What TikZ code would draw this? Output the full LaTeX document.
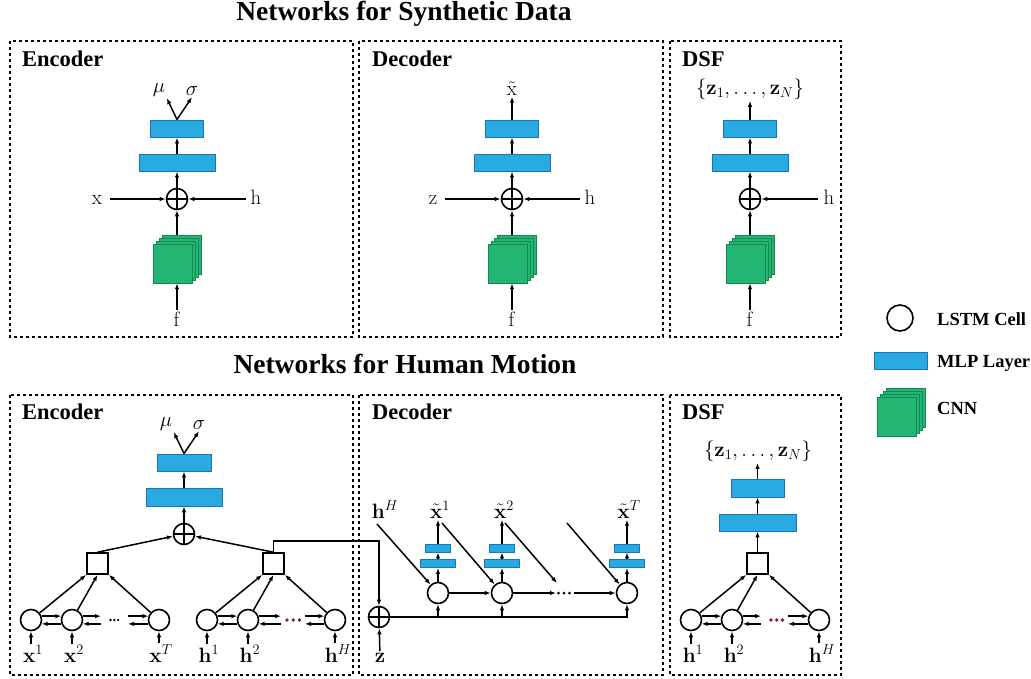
\documentclass[tikz,border=0pt]{standalone}
\usepackage[no-math]{fontspec}
\usepackage{mathtools}
\usetikzlibrary{arrows.meta,calc}
\newfontfamily\headfont{Liberation Serif}
\definecolor{mlpfill}{HTML}{29ABE2}
\definecolor{mlpdraw}{HTML}{1B75BC}
\definecolor{cnnfill}{HTML}{22B573}
\definecolor{cnndraw}{HTML}{16874F}
\definecolor{dotred}{HTML}{7A1E4B}
\tikzset{
  ln/.style={line width=1.5pt},
  arr/.style={line width=1.5pt,-{Latex[length=6pt,width=4.5pt]}},
  mlp/.style={draw=mlpdraw,fill=mlpfill,line width=0.9pt,inner sep=0pt,minimum height=17pt},
  lstm/.style={circle,draw,line width=1.6pt,minimum size=21pt,inner sep=0pt},
  opl/.style={circle,draw,line width=1.6pt,minimum size=21pt,inner sep=0pt,
    path picture={\draw[line width=1.5pt] (path picture bounding box.north) -- (path picture bounding box.south)
      (path picture bounding box.west) -- (path picture bounding box.east);}},
  sqbox/.style={draw,line width=1.6pt,minimum size=21pt,inner sep=0pt},
  panel/.style={draw,line width=1.6pt,dash pattern=on 3pt off 3pt},
  lab/.style={font=\huge,inner sep=1.5pt},
  head/.style={font=\headfont\bfseries\fontsize{22.5}{24}\selectfont,anchor=base west,inner sep=0pt},
  ttl/.style={font=\headfont\bfseries\fontsize{27.5}{30}\selectfont,anchor=base,inner sep=0pt},
  legt/.style={font=\headfont\bfseries\fontsize{18.5}{20}\selectfont,anchor=base west,inner sep=0pt},
  cnnsq/.style={draw=cnndraw,fill=cnnfill,line width=0.9pt},
}
\newcommand{\cnnstack}[3]{%
  \foreach \k in {3,2,1,0}{\draw[cnnsq] ({#2-24+3*\k},{#3+24-3*\k}) rectangle ++(39,-39);}
  \node[inner sep=0pt,minimum size=48pt] (#1) at (#2,#3) {};}
\newcommand{\dotrow}[6]{% color, x1, x2, x3, y, r
  \foreach \xx in {#2,#3,#4}{\fill[#1] (\xx,#5) circle[radius=#6pt];}}
\begin{document}
\begin{tikzpicture}[x=1pt,y=-1pt]
\useasboundingbox (0,0) rectangle (1031,678);

% ---------- titles ----------
\node[ttl] (t1) at (404,20) {Networks for Synthetic Data};
\node[ttl] (t2) at (405,373) {Networks for Human Motion};

% ---------- top panels ----------
\draw[panel] (10,41) rectangle (353,337);
\draw[panel] (359,41) rectangle (663,337);
\draw[panel] (670,41) rectangle (841,337);
\node[head] (h1) at (22,66) {Encoder};
\node[head] (h2) at (372,66) {Decoder};
\node[head] (h3) at (682,66) {DSF};

% top encoder
\node[mlp,minimum width=76pt] (ea) at (177,162.5) {};
\node[mlp,minimum width=53pt] (eb) at (177,128.5) {};
\node[opl] (eo) at (177,199) {};
\cnnstack{ec}{177}{259}
\node[lab,anchor=base] (ef) at (177,326) {$\mathrm{f}$};
\node[lab,anchor=base] (ex) at (97,204) {$\mathrm{x}$};
\node[lab,anchor=base] (eh) at (256,204) {$\mathrm{h}$};
\node[lab] (emu) at (159,90) {$\mu$};
\node[lab] (esg) at (192,91) {$\sigma$};
\draw[arr] (ef) -- (ec);
\draw[arr] (ec) -- (eo);
\draw[arr] ([xshift=6pt]ex.east |- eo) -- (eo.west);
\draw[arr] ([xshift=-3pt]eh.west |- eo) -- (eo.east);
\draw[arr] (eo) -- (ea);
\draw[arr] (ea) -- (eb);
\draw[arr] (eb.north) -- (emu.south east);
\draw[arr] (eb.north) -- (esg.south);

% top decoder
\node[mlp,minimum width=76pt] (da) at (512,162.5) {};
\node[mlp,minimum width=53pt] (db) at (512,128.5) {};
\node[opl] (do) at (512,199) {};
\cnnstack{dc}{512}{259}
\node[lab,anchor=base] (df) at (512,326) {$\mathrm{f}$};
\node[lab,anchor=base] (dz) at (433,204) {$\mathrm{z}$};
\node[lab,anchor=base] (dh) at (590,204) {$\mathrm{h}$};
\node[lab,anchor=base] (dx) at (512,95) {$\tilde{\mathrm{x}}$};
\draw[arr] (df) -- (dc);
\draw[arr] (dc) -- (do);
\draw[arr] ([xshift=6pt]dz.east |- do) -- (do.west);
\draw[arr] ([xshift=-3pt]dh.west |- do) -- (do.east);
\draw[arr] (do) -- (da);
\draw[arr] (da) -- (db);
\draw[arr] (db.north) -- (db.north |- dx.south);

% top DSF
\node[mlp,minimum width=76pt] (sa) at (750,162.5) {};
\node[mlp,minimum width=53pt] (sb) at (750,128.5) {};
\node[opl] (so) at (750,199) {};
\cnnstack{sc}{750}{259}
\node[lab,anchor=base] (sf) at (750,326) {$\mathrm{f}$};
\node[lab,anchor=base] (sh) at (829,204) {$\mathrm{h}$};
\node[lab,anchor=base] (sz) at (750,94) {$\{\mathbf{z}_1,\ldots,\mathbf{z}_N\}$};
\draw[arr] (sf) -- (sc);
\draw[arr] (sc) -- (so);
\draw[arr] ([xshift=-4pt]sh.west |- so) -- (so.east);
\draw[arr] (so) -- (sa);
\draw[arr] (sa) -- (sb);
\draw[arr] (sb.north) -- (sb.north |- sz.south);

% ---------- legend ----------
\node[lstm,minimum size=26pt] (lg1) at (900,318) {};
\node[legt] (lt1) at (937,325) {LSTM Cell};
\node[mlp,minimum width=53pt] (lg2) at (900.5,360.5) {};
\node[legt] (lt2) at (937,367) {MLP Layer};
\cnnstack{lg3}{901}{412}
\node[legt] (lt3) at (937,414) {CNN};

% ---------- bottom panels ----------
\draw[panel] (10,395) rectangle (353,675);
\draw[panel] (359,395) rectangle (663,675);
\draw[panel] (670,395) rectangle (841,675);
\node[head] (h4) at (22,419) {Encoder};
\node[head] (h5) at (372,419) {Decoder};
\node[head] (h6) at (682,419) {DSF};

% bottom encoder
\node[mlp,minimum width=76pt,minimum height=18pt] (ba) at (184,497) {};
\node[mlp,minimum width=54pt] (bb) at (184,462.5) {};
\node[opl] (bo) at (184,534) {};
\node[lab] (bmu) at (166,424) {$\mu$};
\node[lab] (bsg) at (199,425) {$\sigma$};
\node[sqbox] (sqL) at (97.5,563.5) {};
\node[sqbox] (sqR) at (273.5,563.5) {};
\foreach \n/\xx in {c1/31,c2/72,c3/159,c4/207,c5/248,c6/335}{\node[lstm] (\n) at (\xx,620) {};}
\node[lab,anchor=base] (l1) at (33,662) {$\mathbf{x}^1$};
\node[lab,anchor=base] (l2) at (74,662) {$\mathbf{x}^2$};
\node[lab,anchor=base] (l3) at (161,662) {$\mathbf{x}^T$};
\node[lab,anchor=base] (l4) at (209,662) {$\mathbf{h}^1$};
\node[lab,anchor=base] (l5) at (250,662) {$\mathbf{h}^2$};
\node[lab,anchor=base] (l6) at (338,662) {$\mathbf{h}^H$};
\foreach \i in {1,...,6}{\draw[arr] (c\i |- l\i.north) -- (c\i.south);}
% recurrences
\draw[arr] (c1.20) -- (c2.160);
\draw[arr] (c2.-160) -- (c1.-20);
\coordinate (xa) at (101,620);
\coordinate (xb) at (128,620);
\draw[arr] (c2.20) -- (c2.20 -| xa);
\draw[arr] (xa |- c2.-20) -- (c2.-20);
\draw[arr] (xb |- c3.160) -- (c3.160);
\draw[arr] (c3.-160) -- (c3.-160 -| xb);
\dotrow{black}{110.5}{114.3}{118.1}{620}{1.3}
\draw[arr] (c4.20) -- (c5.160);
\draw[arr] (c5.-160) -- (c4.-20);
\coordinate (ha) at (281,620);
\coordinate (hb) at (305,620);
\draw[arr] (c5.20) -- (c5.20 -| ha);
\draw[arr] (ha |- c5.-20) -- (c5.-20);
\draw[arr] (hb |- c6.160) -- (c6.160);
\draw[arr] (c6.-160) -- (c6.-160 -| hb);
\dotrow{dotred}{287}{293.2}{299.4}{620}{1.9}
% to squares
\draw[arr] (c1) -- (sqL.south west);
\draw[arr] (c2) -- (sqL.south);
\draw[arr] (c3) -- (sqL.south east);
\draw[arr] (c4) -- (sqR.south west);
\draw[arr] (c5) -- (sqR.south);
\draw[arr] (c6) -- (sqR.south east);
\draw[arr] (sqL.north) -- (bo);
\draw[arr] (sqR.north) -- (bo);
\draw[arr] (bo) -- (ba);
\draw[arr] (ba) -- (bb);
\draw[arr] (bb.north) -- (bmu.south east);
\draw[arr] (bb.north) -- (bsg.south);

% bottom decoder
\node[opl] (zo) at (379,617) {};
\node[lab,anchor=base] (zl) at (380,662) {$\mathbf{z}$};
\draw[arr] (zl) -- (zo);
\draw[arr] (sqR.north) -- ++(0,-11) -| (zo.north);
\foreach \n/\xx in {d1/438,d2/502,dT/627}{
  \node[lstm] (\n) at (\xx,593) {};
  \node[mlp,minimum width=35pt,minimum height=8pt] (\n a) at (\xx,563.5) {};
  \node[mlp,minimum width=25pt,minimum height=8pt] (\n b) at (\xx,548) {};
  \draw[arr] (\n) -- (\n a);
  \draw[arr] (\n a) -- (\n b);
}
\node[lab,anchor=base] (hH) at (385,518) {$\mathbf{h}^H$};
\node[lab,anchor=base] (x1) at (440,518) {$\tilde{\mathbf{x}}^1$};
\node[lab,anchor=base] (x2) at (504,518) {$\tilde{\mathbf{x}}^2$};
\node[lab,anchor=base] (xT) at (629,518) {$\tilde{\mathbf{x}}^T$};
\draw[arr] (d1b.north) -- (d1b.north |- x1.south);
\draw[arr] (d2b.north) -- (d2b.north |- x2.south);
\draw[arr] (dTb.north) -- (dTb.north |- xT.south);
\coordinate (s1) at (377,524);
\coordinate (s2) at (442,523);
\coordinate (s3) at (505,523);
\coordinate (e3) at (557,583);
\coordinate (s4) at (567,523);
\draw[arr] (s1) -- (d1);
\draw[arr] (s2) -- (d2);
\draw[arr] (s3) -- (e3);
\draw[arr] (s4) -- (dT);
\coordinate (ea2) at (556,593);
\coordinate (eb2) at (574,593);
\draw[arr] (d1) -- (d2);
\draw[arr] (d2.east) -- (ea2);
\draw[arr] (eb2) -- (dT.west);
\dotrow{black}{558.5}{564}{569.5}{593}{1.5}
\draw[arr] (zo.east) -| (dT.south);
\draw[arr] (d1 |- zo) -- (d1.south);
\draw[arr] (d2 |- zo) -- (d2.south);

% bottom DSF
\node[mlp,minimum width=77pt] (ga) at (757.5,522.5) {};
\node[mlp,minimum width=53pt,minimum height=18pt] (gb) at (757.5,488) {};
\node[sqbox] (sqD) at (757.5,563.5) {};
\node[lab,anchor=base] (gz) at (758,456) {$\{\mathbf{z}_1,\ldots,\mathbf{z}_N\}$};
\foreach \n/\xx in {g1/691,g2/732,g3/819}{\node[lstm] (\n) at (\xx,620) {};}
\node[lab,anchor=base] (m1) at (693,662) {$\mathbf{h}^1$};
\node[lab,anchor=base] (m2) at (734,662) {$\mathbf{h}^2$};
\node[lab,anchor=base] (m3) at (822,662) {$\mathbf{h}^H$};
\draw[arr] (g1 |- m1.north) -- (g1.south);
\draw[arr] (g2 |- m2.north) -- (g2.south);
\draw[arr] (g3 |- m3.north) -- (g3.south);
\draw[arr] (g1.20) -- (g2.160);
\draw[arr] (g2.-160) -- (g1.-20);
\coordinate (ga2) at (761,620);
\coordinate (gb2) at (788,620);
\draw[arr] (g2.20) -- (g2.20 -| ga2);
\draw[arr] (ga2 |- g2.-20) -- (g2.-20);
\draw[arr] (gb2 |- g3.160) -- (g3.160);
\draw[arr] (g3.-160) -- (g3.-160 -| gb2);
\dotrow{dotred}{771}{776.7}{782.4}{620}{1.9}
\draw[arr] (g1) -- (sqD.south west);
\draw[arr] (g2) -- (sqD.south);
\draw[arr] (g3) -- (sqD.south east);
\draw[arr] (sqD) -- (ga);
\draw[arr] (ga) -- (gb);
\draw[arr] (gb.north) -- (gb.north |- gz.south);
\end{tikzpicture}
\end{document}
